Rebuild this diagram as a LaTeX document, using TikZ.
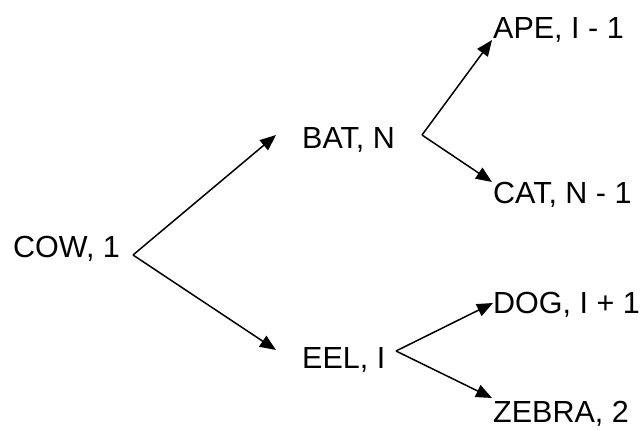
\documentclass[tikz,border=0pt]{standalone}
\usepackage{fontspec}
\setmainfont{Liberation Sans}
\usetikzlibrary{arrows.meta}
\begin{document}
\begin{tikzpicture}[x=1pt,y=-1pt,
  lbl/.style={anchor=base west,inner sep=0pt,font=\fontsize{30.5}{36}\selectfont},
  link/.style={line width=1.5pt,-{Triangle[length=16pt,width=13pt]}}]
\useasboundingbox (0,0) rectangle (644,429);
% labels
\node[lbl] (cow)   at (13,257)  {COW, 1};
\node[lbl] (bat)   at (302,148) {BAT, N};
\node[lbl] (eel)   at (302,368) {EEL, I};
\node[lbl] (ape)   at (493,38)  {APE, I - 1};
\node[lbl] (cat)   at (493,203) {CAT, N - 1};
\node[lbl] (dog)   at (493,313) {DOG, I + 1};
\node[lbl] (zebra) at (493,422.5) {ZEBRA, 2};
% branching points and arrow ends
\coordinate (cowv) at (133,255);
\coordinate (batv) at (422,135);
\coordinate (eelv) at (396,351);
\coordinate (batin) at (276,135);
\coordinate (eelin) at (276,350);
\coordinate (apein) at (492,40);
\coordinate (catin) at (492,182);
\coordinate (dogin) at (493,303);
\coordinate (zebrain) at (492,398);
% connectors
\draw[link] (cowv) -- (batin);
\draw[link] (cowv) -- (eelin);
\draw[link] (batv) -- (apein);
\draw[link] (batv) -- (catin);
\draw[link] (eelv) -- (dogin);
\draw[link] (eelv) -- (zebrain);
\end{tikzpicture}
\end{document}
